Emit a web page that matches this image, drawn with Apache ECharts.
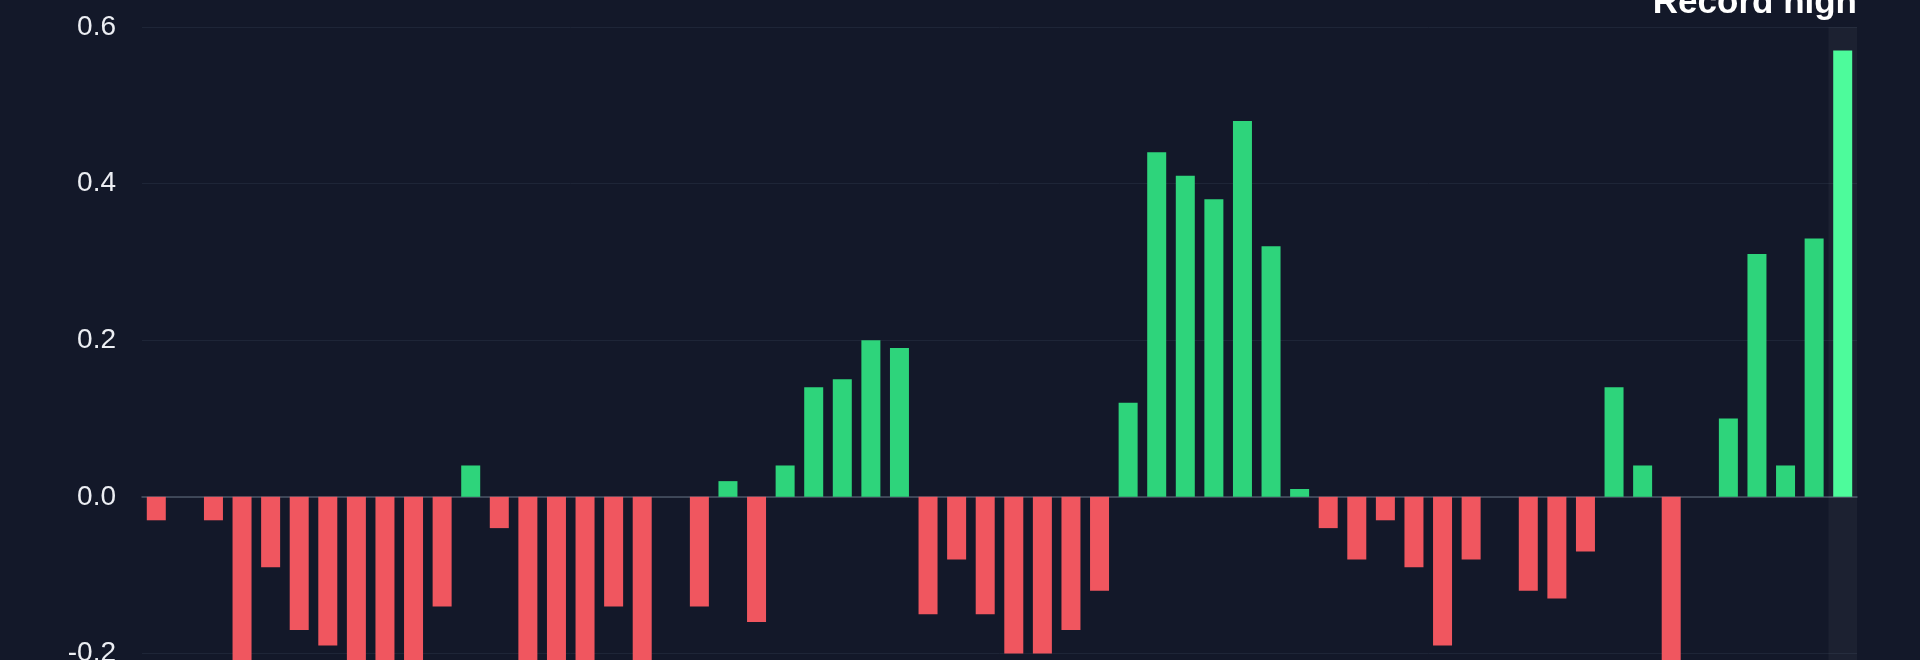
<!DOCTYPE html>
<html>
<head>
<meta charset="utf-8">
<title>Record high</title>
<script src="https://cdn.jsdelivr.net/npm/echarts@6/dist/echarts.min.js"></script>
<style>
  html, body { margin: 0; padding: 0; width: 1920px; height: 660px; overflow: hidden; background: #131829; }
  /* chart is taller than the window: only the upper part is visible */
  #chart { position: absolute; left: 0; top: -40px; width: 1920px; height: 907px; }
</style>
</head>
<body>
<div id="chart"></div>
<script>
// categories (hidden below the visible area)
var periods = [];
for (var i = 1; i <= 60; i++) { periods.push('P' + i); }

// values
var values = [
  -0.03, 0, -0.03, -0.30, -0.09, -0.17, -0.19, -0.25, -0.28, -0.24,
  -0.14, 0.04, -0.04, -0.26, -0.30, -0.27, -0.14, -0.23, 0, -0.14,
  0.02, -0.16, 0.04, 0.14, 0.15, 0.20, 0.19, -0.15, -0.08, -0.15,
  -0.20, -0.20, -0.17, -0.12, 0.12, 0.44, 0.41, 0.38, 0.48, 0.32,
  0.01, -0.04, -0.08, -0.03, -0.09, -0.19, -0.08, 0, -0.12, -0.13,
  -0.07, 0.14, 0.04, -0.27, 0, 0.10, 0.31, 0.04, 0.33, 0.57
];

var yTicks = { min: -0.4, max: 0.6, interval: 0.2 };
var recordLabel = 'Record high';

var chart = echarts.init(document.getElementById('chart'));

//柱子颜色：负值红色，正值绿色，最后一根高亮
var barData = values.map(function (v, i) {
  var c = v < 0 ? '#f0565f' : '#2ed47b';
  if (i === values.length - 1) c = '#4dfb9b';
  return { value: v, itemStyle: { color: c } };
});

var lastCat = periods[periods.length - 1];

var option = {
  backgroundColor: '#131829',
  animation: false,
  grid: { left: 142, right: 63, top: 67, bottom: 57 },
  xAxis: {
    type: 'category',
    data: periods,
    axisLine: { show: true, onZero: true, lineStyle: { color: '#4b5466', width: 1.5 } },
    axisTick: { show: false },
    axisLabel: { show: false },
    splitLine: { show: false }
  },
  yAxis: {
    type: 'value',
    min: yTicks.min,
    max: yTicks.max,
    interval: yTicks.interval,
    axisLine: { show: false },
    axisTick: { show: false },
    axisLabel: {
      color: '#eceef3',
      fontSize: 28,
      fontFamily: 'Liberation Sans, Arial, sans-serif',
      margin: 26,
      formatter: function (v) { return v.toFixed(1); }
    },
    splitLine: { lineStyle: { color: '#1e2537', width: 1 } }
  },
  series: [{
    type: 'bar',
    data: barData,
    barWidth: 19,
    markArea: {
      silent: true,
      itemStyle: { color: 'rgba(255,255,255,0.04)' },
      label: {
        show: true,
        position: ['100%', -6],
        align: 'right',
        verticalAlign: 'bottom',
        color: '#ffffff',
        fontSize: 35,
        fontWeight: 'bold',
        fontFamily: 'Liberation Sans, Arial, sans-serif'
      },
      data: [[
        { name: recordLabel, xAxis: lastCat, yAxis: yTicks.max },
        { xAxis: lastCat, yAxis: yTicks.min }
      ]]
    }
  }]
};

chart.setOption(option);
</script>
</body>
</html>
